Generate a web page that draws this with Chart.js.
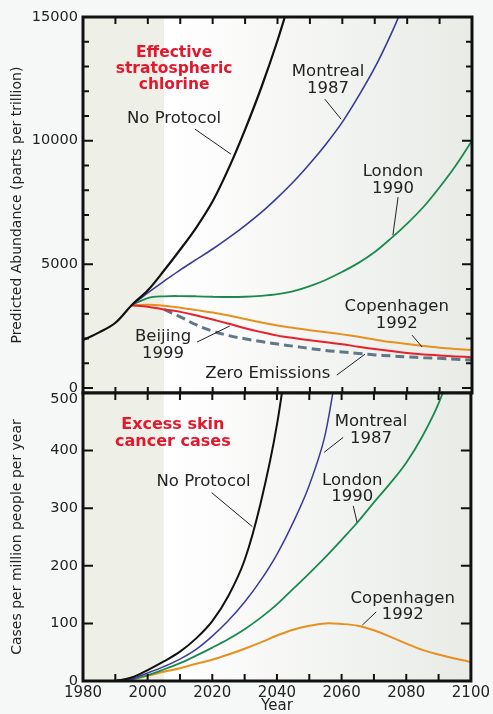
<!DOCTYPE html>
<html>
<head>
<meta charset="utf-8">
<script src="https://cdn.jsdelivr.net/npm/chart.js@4.4.1/dist/chart.umd.min.js"></script>
<style>
  html, body { margin: 0; padding: 0; background: #f6f8f8; }
  #wrap { position: relative; width: 493px; height: 714px; overflow: hidden; }
  #chlorine { position: absolute; left: 0; top: 0; }
  #skin { position: absolute; left: 0; top: 376px; }
</style>
</head>
<body>
<div id="wrap">
  <canvas id="chlorine" width="493" height="410"></canvas>
  <canvas id="skin" width="493" height="338"></canvas>
</div>
<script>
  // top panel: effective stratospheric chlorine (ppt), every 5 years
  var chlorineYears = [1980, 1985, 1990, 1995, 2000, 2005, 2010, 2015, 2020, 2025, 2030, 2035, 2040,
    2045, 2050, 2055, 2060, 2065, 2070, 2075, 2080, 2085, 2090, 2095, 2100];
  var noProtocolCl = [1940, 2250, 2640, 3350, 3950, 4750, 5600, 6500, 7550, 8900, 10450, 12150, 14050,
    16200, null, null, null, null, null, null, null, null, null, null, null];
  var montrealCl = [null, null, null, 3350, 3850, 4320, 4780, 5200, 5620, 6080, 6570, 7100, 7700,
    8350, 9080, 9870, 10750, 11800, 12950, 14300, 15800, null, null, null, null];
  var londonCl = [null, null, null, 3350, 3640, 3710, 3720, 3710, 3690, 3680, 3690, 3730, 3800,
    3920, 4120, 4380, 4700, 5060, 5500, 6050, 6650, 7320, 8120, 9000, 10000];
  var copenhagenCl = [null, null, null, 3350, 3370, 3330, 3250, 3150, 3050, 2930, 2790, 2650, 2530,
    2430, 2340, 2260, 2170, 2070, 1960, 1860, 1780, 1700, 1630, 1580, 1540];
  var beijingCl = [null, null, null, 3350, 3290, 3180, 3080, 2930, 2770, 2600, 2420, 2260, 2120,
    2020, 1930, 1850, 1770, 1670, 1580, 1500, 1420, 1360, 1320, 1280, 1250];
  var zeroCl = [null, null, null, null, null, 3180, 2880, 2550, 2300, 2120, 1990, 1880, 1780,
    1690, 1600, 1520, 1460, 1400, 1340, 1300, 1260, 1230, 1200, 1160, 1130];
  var chlorineTicks = [0, 5000, 10000, 15000];

  // bottom panel: excess skin cancer cases per million per year
  var skinYears = [1990, 1995, 2000, 2005, 2010, 2015, 2020, 2025, 2030, 2035, 2040, 2045,
    2050, 2055, 2060, 2065, 2070, 2075, 2080, 2085, 2090, 2095, 2100];
  var noProtocolSkin = [0, 6, 19, 34, 51, 74, 104, 148, 210, 310, 445, 640,
    null, null, null, null, null, null, null, null, null, null, null];
  var montrealSkin = [0, 4, 14, 25, 38, 55, 78, 105, 137, 175, 220, 275,
    340, 430, 600, null, null, null, null, null, null, null, null];
  var londonSkin = [0, 3, 10, 20, 31, 44, 58, 73, 90, 110, 133, 160,
    187, 215, 245, 276, 310, 343, 379, 425, 482, 560, 650];
  var copenhagenSkin = [0, 3, 9, 16, 22, 30, 37, 46, 56, 67, 79, 89,
    96, 100, 99, 96, 88, 77, 65, 54, 46, 39, 33];
  var skinTicks = [0, 100, 200, 300, 400, 500];
  var yearTicks = [1980, 2000, 2020, 2040, 2060, 2080, 2100];

  var FONT = '"DejaVu Sans", "Liberation Sans", sans-serif';
  var INK = '#222222';

  function pairs(years, values){
    return years.map(function(y, i){
      return {x: y, y: values[i]};
    });
  }

  function line(label, years, values, color, width, dash){
    return {
      label: label,
      data: pairs(years, values),
      borderColor: color,
      borderWidth: width,
      borderDash: dash || [],
      pointRadius: 0,
      fill: false,
      spanGaps: false,
      tension: 0.35
    };
  }

  var panelDecor = {
    id: 'panelDecor',
    beforeDatasetsDraw: function(chart, args, opts){
      var a = chart.chartArea, ctx = chart.ctx;
      var split = chart.scales.x.getPixelForValue(opts.shadeEnd);
      ctx.save();
      ctx.fillStyle = '#eef0e8';
      ctx.fillRect(a.left, a.top, split - a.left, a.bottom - a.top);
      var g = ctx.createLinearGradient(split, 0, a.right, 0);
      g.addColorStop(0, '#ffffff');
      g.addColorStop(1, '#e8ebe6');
      ctx.fillStyle = g;
      ctx.fillRect(split, a.top, a.right - split, a.bottom - a.top);
      ctx.restore();
    },
    afterDatasetsDraw: function(chart, args, opts){
      var a = chart.chartArea, ctx = chart.ctx;
      var xs = chart.scales.x, ys = chart.scales.y;
      var v, px, len;
      ctx.save();

      // labels and leader lines
      opts.notes.forEach(function(n){
        var x0 = xs.getPixelForValue(n.at[0]);
        var y0 = ys.getPixelForValue(n.at[1]);
        ctx.font = n.font;
        ctx.fillStyle = n.color || INK;
        ctx.textAlign = 'center';
        ctx.textBaseline = 'middle';
        n.text.forEach(function(t, i){
          ctx.fillText(t, x0, y0 + i * n.step);
        });
        if (n.lead){
          ctx.strokeStyle = INK;
          ctx.lineWidth = 1;
          ctx.beginPath();
          ctx.moveTo(xs.getPixelForValue(n.lead[0][0]), ys.getPixelForValue(n.lead[0][1]));
          ctx.lineTo(xs.getPixelForValue(n.lead[1][0]), ys.getPixelForValue(n.lead[1][1]));
          ctx.stroke();
        }
      });

      // top tick label nudged down so it clears the panel above
      if (opts.dropTopLabel){
        ctx.font = '14.5px ' + FONT;
        ctx.fillStyle = INK;
        ctx.textAlign = 'right';
        ctx.textBaseline = 'middle';
        ctx.fillText(String(ys.max), a.left - 5, ys.getPixelForValue(ys.max) + opts.dropTopLabel);
      }

      // inward tick marks
      ctx.strokeStyle = '#111';
      ctx.lineWidth = 2;
      ctx.beginPath();
      for (v = opts.yFrom; v <= opts.yTo; v += opts.yStep){
        px = ys.getPixelForValue(v);
        len = (v % opts.yMajor === 0) ? opts.majorLen : opts.minorLen;
        ctx.moveTo(a.left, px); ctx.lineTo(a.left + len, px);
        ctx.moveTo(a.right, px); ctx.lineTo(a.right - len, px);
      }
      for (v = 1990; v <= 2090; v += 10){
        px = xs.getPixelForValue(v);
        ctx.moveTo(px, a.top); ctx.lineTo(px, a.top + opts.topLen);
        ctx.moveTo(px, a.bottom); ctx.lineTo(px, a.bottom - opts.bottomLen);
      }
      ctx.stroke();

      // frame
      ctx.lineWidth = 3;
      ctx.strokeRect(a.left, a.top, a.right - a.left, a.bottom - a.top);
      ctx.restore();
    }
  };

  function makeChart(id, datasets, yOpts, showX, decor, padBottom){
    return new Chart(document.getElementById(id), {
      type: 'line',
      data: {datasets: datasets},
      plugins: [panelDecor],
      options: {
        responsive: false,
        animation: false,
        layout: {padding: {left: 0, top: 17, right: 21, bottom: padBottom}},
        plugins: {
          legend: {display: false},
          tooltip: {enabled: false},
          panelDecor: decor
        },
        scales: {
          x: {
            type: 'linear',
            min: 1980,
            max: 2100,
            display: showX,
            grid: {display: false, drawTicks: false},
            border: {display: false},
            afterBuildTicks: function(scale){
              scale.ticks = yearTicks.map(function(t){ return {value: t}; });
            },
            afterFit: function(scale){
              if (showX) scale.height = 33;
            },
            ticks: {
              color: INK,
              padding: 3,
              maxRotation: 0,
              font: {family: FONT, size: 15},
              callback: function(v){ return String(v); }
            },
            title: {
              display: true,
              text: 'Year',
              color: INK,
              padding: {top: 0, bottom: 0},
              font: {family: FONT, size: 15, lineHeight: 1}
            }
          },
          y: {
            type: 'linear',
            min: yOpts.min,
            max: yOpts.max,
            grid: {display: false, drawTicks: false},
            border: {display: false},
            afterBuildTicks: function(scale){
              scale.ticks = yOpts.ticks.map(function(t){ return {value: t}; });
            },
            afterFit: function(scale){ scale.width = 83; },
            ticks: {
              color: INK,
              padding: 5,
              font: {family: FONT, size: 14.5},
              callback: function(v){
                if (decor.dropTopLabel && v === yOpts.max) return '';
                return String(v);
              }
            },
            title: {
              display: true,
              text: yOpts.title,
              color: INK,
              padding: {top: 9, bottom: 0},
              font: {family: FONT, size: 14}
            }
          }
        }
      }
    });
  }

  var labelFont = '16.5px ' + FONT;

  makeChart('chlorine', [
    line('No Protocol', chlorineYears, noProtocolCl, '#111111', 2.2),
    line('Montreal 1987', chlorineYears, montrealCl, '#3a3a9a', 1.6),
    line('Beijing 1999', chlorineYears, beijingCl, '#e8202c', 2),
    line('Zero Emissions', chlorineYears, zeroCl, '#5f7786', 3, [9, 5]),
    line('Copenhagen 1992', chlorineYears, copenhagenCl, '#e8901e', 2),
    line('London 1990', chlorineYears, londonCl, '#1a8a4e', 1.8)
  ], {
    min: -200, max: 15000, ticks: chlorineTicks,
    title: 'Predicted Abundance (parts per trillion)'
  }, false, {
    shadeEnd: 2005,
    yFrom: 0, yTo: 14000, yStep: 1000, yMajor: 5000, majorLen: 10, minorLen: 6,
    topLen: 7, bottomLen: 6,
    notes: [
      {text: ['Effective', 'stratospheric', 'chlorine'], at: [2008.1, 13560], step: 16,
        font: 'bold 15.5px ' + FONT, color: '#e3182d'},
      {text: ['No Protocol'], at: [2008.1, 10870], step: 16.5, font: labelFont,
        lead: [[2014.5, 10470], [2025.6, 9460]]},
      {text: ['Montreal', '1987'], at: [2055.6, 12770], step: 16.5, font: labelFont,
        lead: [[2054.6, 11680], [2059.6, 10870]]},
      {text: ['London', '1990'], at: [2075.6, 8730], step: 16.5, font: labelFont,
        lead: [[2077.2, 7720], [2075.6, 6180]]},
      {text: ['Copenhagen', '1992'], at: [2076.8, 3270], step: 16.5, font: labelFont,
        lead: [[2081.5, 2140], [2084.6, 1660]]},
      {text: ['Beijing', '1999'], at: [2004.7, 2060], step: 16.5, font: labelFont,
        lead: [[2015.2, 1860], [2025.3, 2510]]},
      {text: ['Zero Emissions'], at: [2037, 570], step: 16.5, font: labelFont,
        lead: [[2058.3, 525], [2067, 1370]]}
    ]
  }, 17);

  makeChart('skin', [
    line('No Protocol', skinYears, noProtocolSkin, '#111111', 2),
    line('Montreal 1987', skinYears, montrealSkin, '#3a3a9a', 1.5),
    line('London 1990', skinYears, londonSkin, '#1a8a4e', 1.8),
    line('Copenhagen 1992', skinYears, copenhagenSkin, '#e8901e', 2)
  ], {
    min: 0, max: 500, ticks: skinTicks,
    title: 'Cases per million people per year'
  }, true, {
    shadeEnd: 2005,
    dropTopLabel: 6,
    yFrom: 100, yTo: 400, yStep: 100, yMajor: 100, majorLen: 10, minorLen: 10,
    topLen: 7, bottomLen: 7,
    notes: [
      {text: ['Excess skin', 'cancer cases'], at: [2007.8, 445], step: 17,
        font: 'bold 16px ' + FONT, color: '#e3182d'},
      {text: ['No Protocol'], at: [2017.3, 346], step: 16.5, font: labelFont,
        lead: [[2019.8, 327], [2032.4, 268]]},
      {text: ['Montreal', '1987'], at: [2069.1, 450], step: 16.5, font: labelFont,
        lead: [[2060.5, 423], [2054.6, 397]]},
      {text: ['London', '1990'], at: [2063.3, 348], step: 16.5, font: labelFont,
        lead: [[2063.6, 304], [2064.8, 275]]},
      {text: ['Copenhagen', '1992'], at: [2078.9, 143], step: 16.5, font: labelFont,
        lead: [[2070.7, 120], [2066.4, 97]]}
    ]
  }, 0);
</script>
</body>
</html>
